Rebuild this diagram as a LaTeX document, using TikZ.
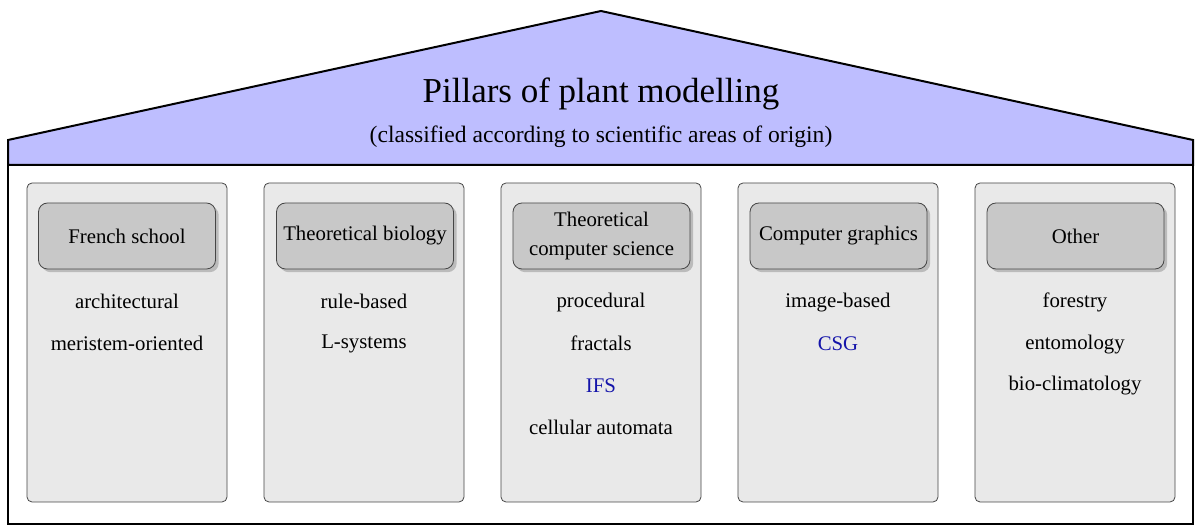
\documentclass[tikz,border=0pt]{standalone}
\usepackage{fontspec}
\setmainfont{Liberation Serif}
\usetikzlibrary{shadows}
\definecolor{roofblue}{RGB}{190,190,255}
\definecolor{pillarfill}{RGB}{233,233,233}
\definecolor{headfill}{RGB}{200,200,200}
\definecolor{pillarline}{RGB}{70,70,70}
\definecolor{linkblue}{RGB}{20,20,170}
\tikzset{
  house/.style={line width=1pt, draw=black},
  pillar/.style={draw=pillarline, line width=0.4pt, fill=pillarfill, rounded corners=2.5pt,
    minimum width=100pt, minimum height=159.5pt, inner sep=0pt},
  headbox/.style={draw=pillarline, line width=0.4pt, fill=headfill, rounded corners=4.5pt,
    minimum width=88.5pt, minimum height=33pt, inner sep=0pt, align=center,
    font=\fontsize{10.4}{14.5}\selectfont,
    drop shadow={shadow xshift=1.6pt, shadow yshift=-1.6pt, opacity=0.35, fill=black!60}},
  item/.style={inner sep=0pt, font=\fontsize{10.4}{12.5}\selectfont, text height=0.7em, text depth=0.2em},
  blueitem/.style={item, text=linkblue},
  titletext/.style={inner sep=0pt, font=\fontsize{17.5}{20}\selectfont, text height=0.7em, text depth=0.2em},
  subtext/.style={inner sep=0pt, font=\fontsize{11.8}{14}\selectfont, text height=0.7em, text depth=0.2em},
}
\begin{document}
\begin{tikzpicture}[x=0.5pt,y=-0.5pt]
\useasboundingbox (0,0) rectangle (1200,528);
% roof
\draw[house, fill=roofblue] (8,165) -- (8,140) -- (601,11) -- (1193,140) -- (1193,165) -- cycle;
% body
\draw[house, fill=white] (8,165) rectangle (1193,524);
\node[titletext] (title) at (601,98) {Pillars of plant modelling};
\node[subtext] (subtitle) at (601,138) {(classified according to scientific areas of origin)};
% pillars
\node[pillar] (p1) at (127,342.5) {};
\node[pillar] (p2) at (364,342.5) {};
\node[pillar] (p3) at (601,342.5) {};
\node[pillar] (p4) at (838,342.5) {};
\node[pillar] (p5) at (1075,342.5) {};
% headers
\node[headbox] (h1) at (127,236) {French school};
\node[headbox] (h2) at (365,236) {Theoretical biology};
\node[headbox] (h3) at (601.5,236) {Theoretical\\computer science};
\node[headbox] (h4) at (838.5,236) {Computer graphics};
\node[headbox] (h5) at (1075.5,236) {Other};
% items
\node[item] (a1) at (127,304) {architectural};
\node[item] (a2) at (127,346) {meristem-oriented};
\node[item] (b1) at (364,304) {rule-based};
\node[item] (b2) at (364,344) {L-systems};
\node[item] (c1) at (601,303) {procedural};
\node[item] (c2) at (601,346) {fractals};
\node[blueitem] (c3) at (601,388) {IFS};
\node[item] (c4) at (601,430) {cellular automata};
\node[item] (d1) at (838,303) {image-based};
\node[blueitem] (d2) at (838,346) {CSG};
\node[item] (e1) at (1075,303) {forestry};
\node[item] (e2) at (1075,345) {entomology};
\node[item] (e3) at (1075,386) {bio-climatology};
\end{tikzpicture}
\end{document}
